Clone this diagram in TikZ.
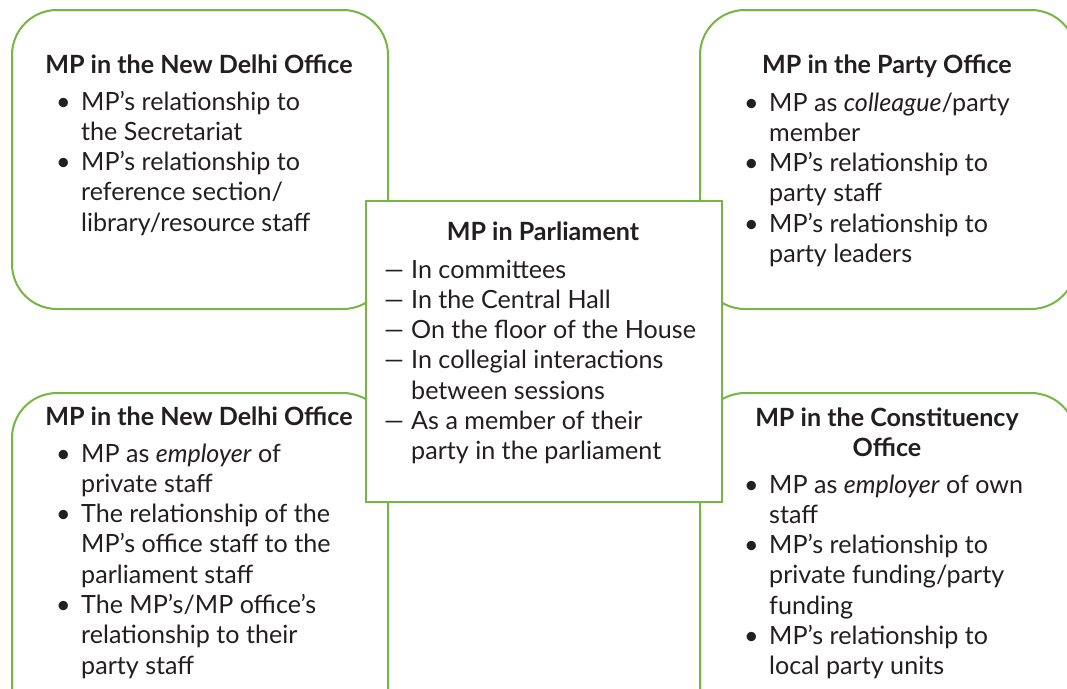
\documentclass[tikz,border=0pt]{standalone}
\usepackage{fontspec}
\setmainfont{Lato}
\usepackage{array}
\definecolor{leaf}{RGB}{118,182,67}
\definecolor{ink}{RGB}{35,31,32}
\tikzset{
  zone/.style={draw=leaf, line width=2pt, rounded corners=45pt, fill=white,
    anchor=north west, inner sep=0pt, minimum width=376pt},
  hub/.style={draw=leaf, line width=2pt, fill=white, anchor=north west,
    inner sep=0pt, minimum width=356pt, minimum height=301pt},
  heading/.style={font=\fontsize{25.1}{30.3}\selectfont\bfseries, text=ink,
    anchor=base, inner sep=0pt},
  listing/.style={font=\fontsize{25.1}{30.3}\selectfont, text=ink,
    anchor=base west, inner sep=0pt},
}
\begin{document}
\begin{tikzpicture}[x=1pt, y=-1pt]
\useasboundingbox (0,0) rectangle (1067,688);
\clip (0,0) rectangle (1067,688);

% four rounded zones around the centre
\node[zone, minimum height=299pt] (tl) at (11,9) {};
\node[zone, minimum height=299pt] (tr) at (699,9) {};
\node[zone, minimum height=360pt] (bl) at (11,392) {};
\node[zone, minimum height=360pt] (br) at (699,392) {};

% top left
\node[heading] (tlh) at (199,73) {MP in the New Delhi Office};
\node[listing] (tll) at (56,110) {\begin{tabular}[t]{@{}p{25pt}@{}l@{}}
•&MP’s relationship to\\
 &the Secretariat\\
•&MP’s relationship to\\
 &reference section/\\
 &library/resource staff
\end{tabular}};

% top right
\node[heading] (trh) at (887,73) {MP in the Party Office};
\node[listing] (trl) at (744,111) {\begin{tabular}[t]{@{}p{25pt}@{}l@{}}
•&MP as \textit{colleague}/party\\
 &member\\
•&MP’s relationship to\\
 &party staff\\
•&MP’s relationship to\\
 &party leaders
\end{tabular}};

% bottom left
\node[heading] (blh) at (199,425) {MP in the New Delhi Office};
\node[listing] (bll) at (56,462) {\begin{tabular}[t]{@{}p{25pt}@{}l@{}}
•&MP as \textit{employer} of\\
 &private staff\\
•&The relationship of the\\
 &MP’s office staff to the\\
 &parliament staff\\
•&The MP’s/MP office’s\\
 &relationship to their\\
 &party staff
\end{tabular}};

% bottom right
\node[heading] (brh) at (887,426) {\begin{tabular}[t]{@{}c@{}}
MP in the Constituency\\
Office
\end{tabular}};
\node[listing] (brl) at (744,493) {\begin{tabular}[t]{@{}p{25pt}@{}l@{}}
•&MP as \textit{employer} of own\\
 &staff\\
•&MP’s relationship to\\
 &private funding/party\\
 &funding\\
•&MP’s relationship to\\
 &local party units
\end{tabular}};

% centre box on top of the zones
\node[hub] (mid) at (365,200) {};
\node[heading] (midh) at (543,240) {MP in Parliament};
\node[listing] (midl) at (384,278) {\begin{tabular}[t]{@{}p{27pt}@{}l@{}}
—&In committees\\
—&In the Central Hall\\
—&On the floor of the House\\
—&In collegial interactions\\
 &between sessions\\
—&As a member of their\\
 &party in the parliament
\end{tabular}};
\end{tikzpicture}
\end{document}
